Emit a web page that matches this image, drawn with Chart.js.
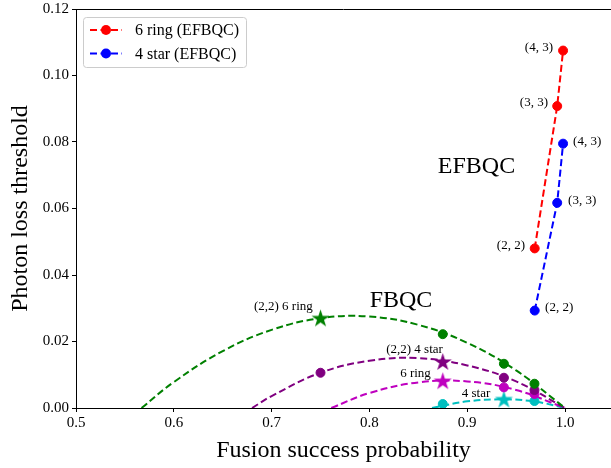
<!DOCTYPE html>
<html>
<head>
<meta charset="utf-8">
<script src="https://cdn.jsdelivr.net/npm/chart.js@4.4.1/dist/chart.umd.min.js"></script>
<style>
  html, body { margin: 0; padding: 0; background: #fff; }
  #wrap { width: 611px; height: 468px; }
</style>
</head>
<body>
<div id="wrap"><canvas id="chart" width="611" height="468"></canvas></div>
<script>
// EFBQC points: (2,2), (3,3), (4,3)
const efbqcLabels = ["(2, 2)", "(3, 3)", "(4, 3)"];
const efbqcProb = [0.969, 0.992, 0.998];
const ring6Efbqc = [0.0480, 0.0908, 0.1075];
const star4Efbqc = [0.0293, 0.0617, 0.0795];

// FBQC fitted curves
const greenCurveX = [0.567, 0.6, 0.65, 0.7, 0.75, 0.8, 0.85, 0.9, 0.95, 1.0];
const greenCurveY = [0, 0.0078, 0.0171, 0.0235, 0.0270, 0.0275, 0.0250, 0.0196, 0.0113, 0];
const purpleCurveX = [0.68, 0.7, 0.75, 0.8, 0.85, 0.9, 0.95, 1.0];
const purpleCurveY = [0, 0.0036, 0.0106, 0.0142, 0.0150, 0.0128, 0.0080, 0];
const magentaCurveX = [0.761, 0.8, 0.85, 0.9, 0.95, 1.0];
const magentaCurveY = [0, 0.0045, 0.0077, 0.0080, 0.0054, 0];
const cyanCurveX = [0.864, 0.9, 0.9375, 0.97, 1.0];
const cyanCurveY = [0, 0.0020, 0.0026, 0.0019, 0];

// FBQC markers
const greenDotX = [0.875, 0.9375, 0.96875];
const greenDotY = [0.0222, 0.0133, 0.0073];
const greenStar = [0.75, 0.0271];
const purpleDotX = [0.75, 0.9375, 0.96875];
const purpleDotY = [0.0106, 0.0091, 0.0054];
const purpleStar = [0.875, 0.0140];
const magentaDotX = [0.9375, 0.96875];
const magentaDotY = [0.0062, 0.0042];
const magentaStar = [0.875, 0.0082];
const cyanDotX = [0.875, 0.96875];
const cyanDotY = [0.0012, 0.0021];
const cyanStar = [0.9375, 0.0027];

const xTicks = [0.5, 0.6, 0.7, 0.8, 0.9, 1.0];
const yTicks = [0.00, 0.02, 0.04, 0.06, 0.08, 0.10, 0.12];

const SERIF = "'Liberation Serif', 'Times New Roman', serif";
const DASH = [7, 3.5];

function pts(xs, ys) {
    return xs.map((x, i) => ({ x: x, y: ys[i] }));
}

function starImage(color, r) {
    const s = Math.ceil(r * 2 + 2);
    const c = document.createElement("canvas");
    c.width = s;
    c.height = s;
    const g = c.getContext("2d");
    g.beginPath();
    for (let i = 0; i < 10; i++) {
        const rad = i % 2 ? r * 0.382 : r;
        const a = -Math.PI / 2 + (i * Math.PI) / 5;
        g.lineTo(s / 2 + rad * Math.cos(a), s / 2 + 0.9 + rad * Math.sin(a));
    }
    g.closePath();
    g.fillStyle = color;
    g.fill();
    return c;
}

function curve(xs, ys, color) {
    return {
        data: pts(xs, ys),
        showLine: true,
        borderColor: color,
        borderWidth: 2,
        borderDash: DASH,
        pointRadius: 0,
        tension: 0.4,
        fill: false,
        order: 2,
    };
}

function dots(xs, ys, color) {
    return {
        data: pts(xs, ys),
        showLine: false,
        backgroundColor: color,
        borderColor: color,
        borderWidth: 1,
        pointRadius: 4.5,
        order: 0,
    };
}

function star(p, color) {
    return {
        data: [{ x: p[0], y: p[1] }],
        showLine: false,
        pointStyle: starImage(color, 9.5),
        pointRadius: 9,
        order: 0,
    };
}

const red = "#ff0000";
const blue = "#0000ff";
const green = "#008000";
const purple = "#800080";
const magenta = "#bf00bf";
const cyan = "#00bfbf";

const datasets = [
    {
        label: "6 ring (EFBQC)",
        data: pts(efbqcProb, ring6Efbqc),
        showLine: true,
        borderColor: red,
        backgroundColor: red,
        borderWidth: 2,
        borderDash: DASH,
        pointRadius: 4.5,
        pointBorderWidth: 1,
        order: 1,
    },
    {
        label: "4 star (EFBQC)",
        data: pts(efbqcProb, star4Efbqc),
        showLine: true,
        borderColor: blue,
        backgroundColor: blue,
        borderWidth: 2,
        borderDash: DASH,
        pointRadius: 4.5,
        pointBorderWidth: 1,
        order: 1,
    },
    curve(greenCurveX, greenCurveY, green),
    curve(purpleCurveX, purpleCurveY, purple),
    curve(magentaCurveX, magentaCurveY, magenta),
    curve(cyanCurveX, cyanCurveY, cyan),
    dots(greenDotX, greenDotY, green),
    dots(purpleDotX, purpleDotY, purple),
    dots(magentaDotX, magentaDotY, magenta),
    dots(cyanDotX, cyanDotY, cyan),
    star(greenStar, green),
    star(purpleStar, purple),
    star(magentaStar, magenta),
    star(cyanStar, cyan),
];

// text labels placed in data coordinates
const notes = [
    { text: efbqcLabels[2], x: 0.9877, y: ring6Efbqc[2] + 0.001, align: "right", size: 13 },
    { text: efbqcLabels[1], x: 0.9826, y: ring6Efbqc[1] + 0.0012, align: "right", size: 13 },
    { text: efbqcLabels[0], x: 0.9591, y: ring6Efbqc[0] + 0.0008, align: "right", size: 13 },
    { text: efbqcLabels[2], x: 1.0082, y: star4Efbqc[2] + 0.0007, align: "left", size: 13 },
    { text: efbqcLabels[1], x: 1.0031, y: star4Efbqc[1] + 0.0007, align: "left", size: 13 },
    { text: efbqcLabels[0], x: 0.9796, y: star4Efbqc[0] + 0.0009, align: "left", size: 13 },
    { text: "EFBQC", x: 0.9095, y: 0.0725, align: "center", size: 24 },
    { text: "FBQC", x: 0.8323, y: 0.0324, align: "center", size: 24 },
    { text: "(2,2) 6 ring", x: 0.712, y: 0.0305, align: "center", size: 13 },
    { text: "(2,2) 4 star", x: 0.8461, y: 0.0175, align: "center", size: 13 },
    { text: "6 ring", x: 0.8471, y: 0.0103, align: "center", size: 13 },
    { text: "4 star", x: 0.909, y: 0.0044, align: "center", size: 13 },
];

const notesPlugin = {
    id: "notes",
    afterDatasetsDraw(chart) {
        const { ctx, scales } = chart;
        ctx.save();
        ctx.fillStyle = "#000";
        ctx.textBaseline = "middle";
        notes.forEach((n) => {
            ctx.font = `${n.size}px ${SERIF}`;
            ctx.textAlign = n.align;
            ctx.fillText(n.text, scales.x.getPixelForValue(n.x), scales.y.getPixelForValue(n.y));
        });
        ctx.restore();
    },
};

const framePlugin = {
    id: "frame",
    afterDraw(chart) {
        const { ctx, chartArea } = chart;
        ctx.save();
        ctx.strokeStyle = "#000";
        ctx.lineWidth = 1;
        ctx.beginPath();
        ctx.moveTo(chartArea.left, chartArea.top + 0.5);
        ctx.lineTo(chartArea.right, chartArea.top + 0.5);
        ctx.stroke();

        // legend box
        const bx = 83.5, by = 17.5, bw = 163, bh = 50;
        ctx.fillStyle = "rgba(255,255,255,0.85)";
        ctx.strokeStyle = "#cccccc";
        ctx.beginPath();
        ctx.roundRect(bx, by, bw, bh, 3);
        ctx.fill();
        ctx.stroke();
        ctx.font = `16px ${SERIF}`;
        ctx.textAlign = "left";
        ctx.textBaseline = "middle";
        [0, 1].forEach((i) => {
            const ds = chart.data.datasets[i];
            const y = 30 + i * 23.5;
            ctx.strokeStyle = ds.borderColor;
            ctx.lineWidth = 2;
            ctx.setLineDash(DASH);
            ctx.beginPath();
            ctx.moveTo(90, y);
            ctx.lineTo(122, y);
            ctx.stroke();
            ctx.setLineDash([]);
            ctx.fillStyle = ds.borderColor;
            ctx.beginPath();
            ctx.arc(106, y, 5, 0, Math.PI * 2);
            ctx.fill();
            ctx.fillStyle = "#000";
            ctx.fillText(ds.label, 135, y + 1);
        });
        ctx.restore();
    },
};

const ctx = document.getElementById("chart").getContext("2d");
new Chart(ctx, {
    type: "scatter",
    data: { datasets: datasets },
    options: {
        responsive: false,
        animation: false,
        devicePixelRatio: 1,
        layout: { autoPadding: false, padding: { top: 9, right: 0, left: 0, bottom: 0 } },
        plugins: {
            legend: { display: false },
            tooltip: { enabled: false },
        },
        scales: {
            x: {
                type: "linear",
                min: 0.5,
                max: 1.047,
                afterFit: (s) => {
                    s.height = 60;
                    s.paddingLeft = 0;
                    s.paddingRight = 0;
                },
                afterBuildTicks: (s) => { s.ticks = xTicks.map((v) => ({ value: v })); },
                ticks: {
                    color: "#000",
                    font: { family: SERIF, size: 15 },
                    padding: 2,
                    maxRotation: 0,
                    callback: (v) => Number(v).toFixed(1),
                },
                grid: { display: true, drawOnChartArea: false, drawTicks: true, tickLength: 4, color: "#000" },
                border: { display: true, color: "#000", width: 1 },
                title: {
                    display: true,
                    text: "Fusion success probability",
                    color: "#000",
                    font: { family: SERIF, size: 24 },
                    padding: { top: 3, bottom: 3 },
                },
            },
            y: {
                type: "linear",
                min: 0,
                max: 0.12,
                afterFit: (s) => {
                    s.width = 76;
                    s.paddingTop = 0;
                    s.paddingBottom = 0;
                },
                afterBuildTicks: (s) => { s.ticks = yTicks.map((v) => ({ value: v })); },
                ticks: {
                    color: "#000",
                    font: { family: SERIF, size: 15 },
                    padding: 3,
                    callback: (v) => Number(v).toFixed(2),
                },
                grid: { display: true, drawOnChartArea: false, drawTicks: true, tickLength: 4, color: "#000" },
                border: { display: true, color: "#000", width: 1 },
                title: {
                    display: true,
                    text: "Photon loss threshold",
                    color: "#000",
                    font: { family: SERIF, size: 24 },
                    padding: { top: 6, bottom: 4 },
                },
            },
        },
    },
    plugins: [notesPlugin, framePlugin],
});
</script>
</body>
</html>
